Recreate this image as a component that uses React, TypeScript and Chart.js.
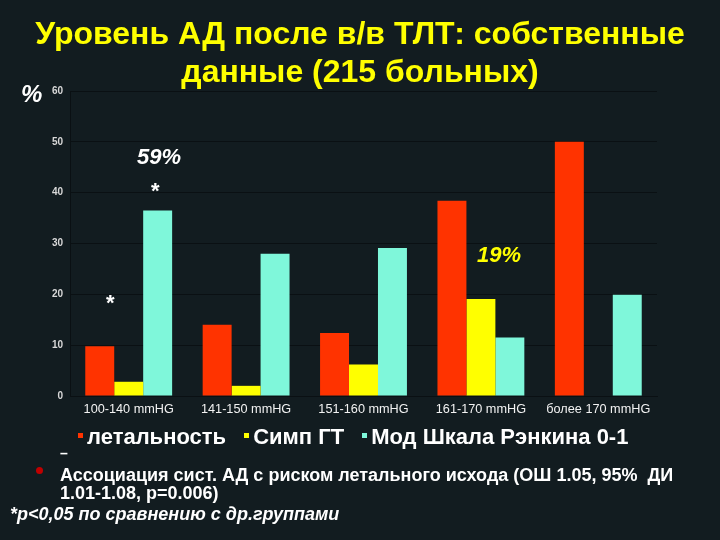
import React, { useEffect, useRef } from "react";
import { Chart, registerables } from "chart.js";

Chart.register(...registerables);

const categories = ["100-140 mmHG", "141-150 mmHG", "151-160 mmHG", "161-170 mmHG", "более 170 mmHG"];
const mortality = [9.8, 14, 12.4, 38.4, 50];
const sympHT = [2.8, 2, 6.2, 19.1, 0];
const rankin = [36.5, 28, 29.1, 11.5, 19.9];
const yTicks = [0, 10, 20, 30, 40, 50, 60];
const seriesNames = ["летальность", "Симп ГТ", "Мод Шкала Рэнкина 0-1"];

const BG = "#121c20";
const RED = "#ff3300";
const YELLOW = "#ffff00";
const CYAN = "#7ff7da";
const SANS = "'Liberation Sans', Arial, sans-serif";

export default function App() {
  const ref = useRef<HTMLCanvasElement>(null);
  useEffect(() => {
    document.body.style.margin = "0";
    document.body.style.background = BG;
    const chart = new Chart(ref.current!, {
      type: "bar",
      data: {
        labels: categories,
        datasets: [
          { label: seriesNames[0], data: mortality, backgroundColor: RED },
          { label: seriesNames[1], data: sympHT, backgroundColor: YELLOW },
          { label: seriesNames[2], data: rankin, backgroundColor: CYAN },
        ],
      },
      options: {
        animation: false,
        responsive: false,
        maintainAspectRatio: false,
        layout: { padding: { top: 91, bottom: 114, left: 0, right: 63 } },
        datasets: { bar: { categoryPercentage: 0.74, barPercentage: 1 } },
        plugins: { legend: { display: false }, tooltip: { enabled: false } },
        scales: {
          x: {
            grid: { display: false, drawTicks: false },
            border: { display: true, color: "#0a1013", width: 1 },
            ticks: { color: "#f2f2f2", font: { family: SANS, size: 12.7 }, padding: 6, maxRotation: 0 },
            afterFit: (s: any) => { s.height = 30; },
          },
          y: {
            min: 0,
            max: 60,
            afterBuildTicks: (s: any) => { s.ticks = yTicks.map((v) => ({ value: v })); },
            grid: { color: "#0a1013", drawTicks: false, lineWidth: 1 },
            border: { display: true, color: "#0a1013" },
            ticks: { color: "#d8d8d8", font: { family: SANS, size: 10, weight: "bold" }, padding: 7 },
            afterFit: (s: any) => { s.width = 70; },
          },
        },
      },
    });
    return () => chart.destroy();
  }, []);

  const abs = (x: number, y: number, extra: React.CSSProperties = {}): React.CSSProperties => ({
    position: "absolute", left: x, top: y, whiteSpace: "nowrap", lineHeight: 1, ...extra,
  });

  return (
    <div style={{ position: "fixed", left: 0, top: 0, width: 720, height: 540, background: BG, overflow: "hidden" }}>
      <canvas ref={ref} width={720} height={540} style={{ position: "absolute", left: 0, top: 0, width: 720, height: 540 }} />
      <div style={{ position: "absolute", left: 0, top: 14, width: 720, textAlign: "center", color: YELLOW, fontFamily: SANS, fontWeight: "bold", fontSize: 32, lineHeight: "38px" }}>
        Уровень АД после в/в ТЛТ: собственные<br />данные (215 больных)
      </div>
      <div style={abs(21, 82, { color: "#fff", fontFamily: SANS, fontWeight: "bold", fontStyle: "italic", fontSize: 24 })}>%</div>
      <div style={abs(137, 146, { color: "#fff", fontFamily: SANS, fontWeight: "bold", fontStyle: "italic", fontSize: 22 })}>59%</div>
      <div style={abs(151, 180, { color: "#fff", fontFamily: SANS, fontWeight: "bold", fontSize: 22 })}>*</div>
      <div style={abs(106, 292, { color: "#fff", fontFamily: SANS, fontWeight: "bold", fontSize: 22 })}>*</div>
      <div style={abs(477, 244, { color: YELLOW, fontFamily: SANS, fontWeight: "bold", fontStyle: "italic", fontSize: 22 })}>19%</div>

      <div style={abs(78, 426, { color: "#fff", fontFamily: SANS, fontWeight: "bold", fontSize: 22, display: "flex", alignItems: "baseline" })}>
        {[RED, YELLOW, CYAN].map((c, i) => (
          <span key={i} style={{ display: "inline-flex", alignItems: "baseline", marginRight: i < 2 ? 18 : 0 }}>
            <span style={{ display: "inline-block", width: 5, height: 5, background: c, marginRight: 4, position: "relative", top: -6 }} />
            {seriesNames[i]}
          </span>
        ))}
      </div>
      <div style={abs(60, 446, { color: "#fff", fontFamily: SANS, fontWeight: "bold", fontSize: 14 })}>–</div>
      <div style={{ position: "absolute", left: 36, top: 467, width: 7, height: 7, borderRadius: "50%", background: "#c00000" }} />
      <div style={abs(60, 466, { color: "#fff", fontFamily: SANS, fontWeight: "bold", fontSize: 18, lineHeight: "18px" })}>
        Ассоциация сист. АД с риском летального исхода (ОШ 1.05, 95%&nbsp; ДИ<br />1.01-1.08, p=0.006)
      </div>
      <div style={abs(10, 505, { color: "#fff", fontFamily: SANS, fontWeight: "bold", fontStyle: "italic", fontSize: 18 })}>
        *p&lt;0,05 по сравнению с др.группами
      </div>
    </div>
  );
}
